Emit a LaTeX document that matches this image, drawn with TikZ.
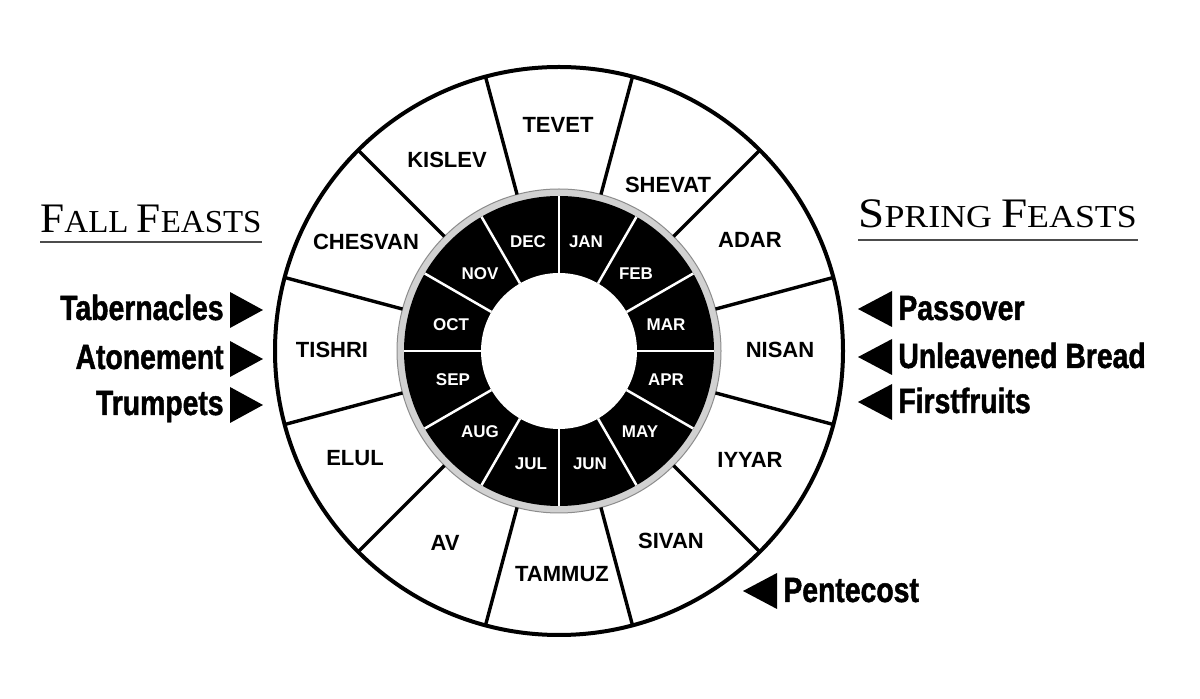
\documentclass[tikz,border=0pt]{standalone}
\usepackage{fontspec}
\usetikzlibrary{calc}
\newfontfamily\msans{Liberation Sans}
\newfontfamily\feastf[FakeStretch=0.81,FakeBold=1.3]{Liberation Sans}
\newfontfamily\headf{Liberation Serif}
\tikzset{
  outerm/.style={font={\msans\bfseries\fontsize{11}{13}\selectfont}, inner sep=0pt},
  innerm/.style={text=white, font={\msans\bfseries\fontsize{8.5}{10}\selectfont}, inner sep=0pt},
  feast/.style={font={\feastf\bfseries\fontsize{17.5}{20}\selectfont}, inner sep=0pt},
  heading/.style={font=\headf, text=black, inner sep=0pt},
  divider/.style={line width=1.7pt},
  whitediv/.style={white, line width=1.25pt},
  rule/.style={line width=0.8pt, black!70},
  tri/.style={fill=black}
}
\newcommand{\bigc}[1]{{\fontsize{21}{24}\selectfont #1}}
\newcommand{\smc}[1]{{\fontsize{16}{19}\selectfont #1}}
\begin{document}
\begin{tikzpicture}[x=0.5pt,y=-0.5pt]
\useasboundingbox (0,0) rectangle (1200,699);
\fill[white] (0,0) rectangle (1200,699);
% wheel
\begin{scope}[shift={(559,351)}, yscale=-1]
  \fill[black!18] (0,0) circle (162);
  \fill[black] (0,0) circle (155);
  \fill[white] (0,0) circle (78);
  \foreach \a in {0,30,...,330} \draw[whitediv] (\a:78) -- (\a:155);
  \draw[black!45, line width=0.5pt] (0,0) circle (162);
  \foreach \a in {15,45,...,345} \draw[divider] (\a:162) -- (\a:284);
  \draw[line width=2pt] (0,0) circle (284);
\end{scope}
% outer month names
\node[outerm] (tevet) at (558,125) {TEVET};
\node[outerm] (shevat) at (668,185) {SHEVAT};
\node[outerm] (adar) at (750,240) {ADAR};
\node[outerm] (nisan) at (780,350) {NISAN};
\node[outerm] (iyyar) at (750,460) {IYYAR};
\node[outerm] (sivan) at (671,541) {SIVAN};
\node[outerm] (tammuz) at (562,574) {TAMMUZ};
\node[outerm] (av) at (445,543) {AV};
\node[outerm] (elul) at (355,458) {ELUL};
\node[outerm] (tishri) at (332,350) {TISHRI};
\node[outerm] (chesvan) at (366,242) {CHESVAN};
\node[outerm] (kislev) at (447,160) {KISLEV};
% inner month names
\node[innerm] (dec) at (528,242) {DEC};
\node[innerm] (jan) at (586,242) {JAN};
\node[innerm] (nov) at (480,274) {NOV};
\node[innerm] (feb) at (636,274) {FEB};
\node[innerm] (oct) at (451,325) {OCT};
\node[innerm] (mar) at (666,325) {MAR};
\node[innerm] (sep) at (453,380) {SEP};
\node[innerm] (apr) at (666,380) {APR};
\node[innerm] (aug) at (480,432) {AUG};
\node[innerm] (may) at (640,432) {MAY};
\node[innerm] (jul) at (531,464) {JUL};
\node[innerm] (jun) at (590,464) {JUN};
% headings
\node[heading, anchor=base west] (fall) at (40,233) {\scalebox{1.03}[1]{\bigc{F}\smc{ALL }\bigc{F}\smc{EASTS}}};
\draw[rule] (40,242) -- (262,242);
\node[heading, anchor=base west] (spring) at (858,228) {\scalebox{1.12}[1]{\bigc{S}\smc{PRING }\bigc{F}\smc{EASTS}}};
\draw[rule] (858,240) -- (1138,240);
% fall feasts
\node[feast, anchor=base east] (tab) at (224,320) {Tabernacles};
\node[feast, anchor=base east] (ato) at (224,369) {Atonement};
\node[feast, anchor=base east] (tru) at (224,415) {Trumpets};
\foreach \n in {tab,ato,tru}
  \fill[tri] ($(\n.base east)+(6,-28)$) -- ++(33,18) -- ++(-33,18) -- cycle;
% spring feasts
\node[feast, anchor=base west] (pas) at (898,320) {Passover};
\node[feast, anchor=base west] (unl) at (898,368) {Unleavened Bread};
\node[feast, anchor=base west] (fir) at (898,413) {Firstfruits};
\node[feast, anchor=base west] (pen) at (783,602) {Pentecost};
\foreach \n in {pas,unl,fir,pen}
  \fill[tri] ($(\n.base west)+(-6,-29)$) -- ++(-34,18) -- ++(34,18) -- cycle;
\end{tikzpicture}
\end{document}
